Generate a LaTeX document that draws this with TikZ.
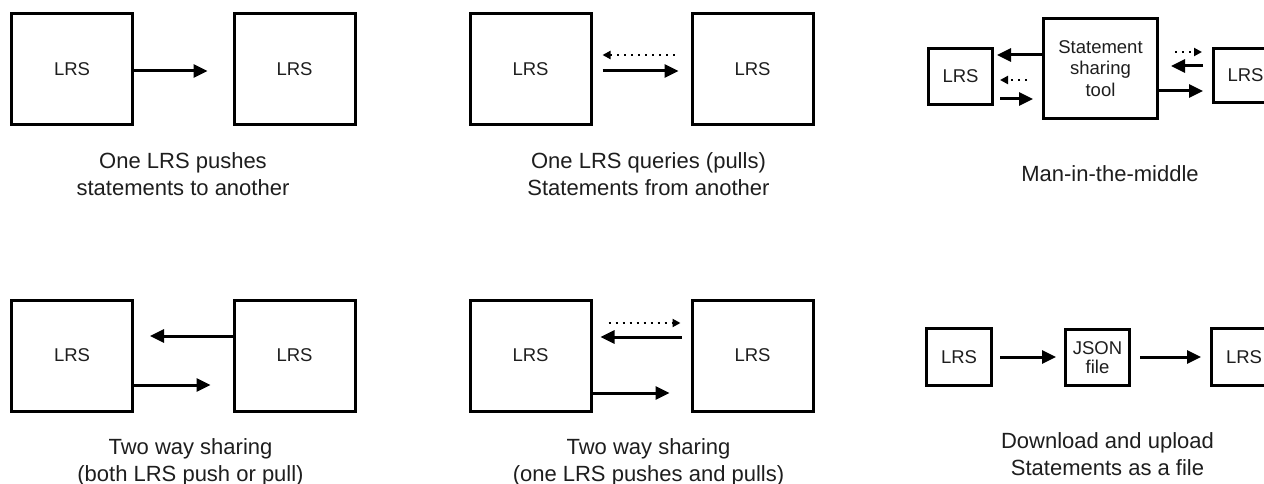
\documentclass[tikz,border=0pt]{standalone}
\usepackage{fontspec}
\setmainfont{Liberation Sans}
\usetikzlibrary{arrows.meta}
\definecolor{txt}{HTML}{1E1E1E}
\begin{document}
\begin{tikzpicture}[x=1pt,y=-1pt,
  box/.style={draw=black, line width=3pt, inner sep=0pt, align=center, text=txt,
    font=\fontsize{18.5}{21.5}\selectfont},
  bigbox/.style={box, minimum width=121pt, minimum height=111pt},
  smallbox/.style={box, minimum width=64pt, minimum height=56pt},
  captxt/.style={font=\fontsize{22}{27}\selectfont, align=center, anchor=base, inner sep=0pt, text=txt},
  arr/.style={line width=3pt, -{Triangle[length=14pt,width=13pt]}},
  darr/.style={line width=2pt, dash pattern=on 2pt off 5pt, -{Triangle[length=8pt,width=8pt]}}
]
\useasboundingbox[fill=white] (0,0) rectangle (1264,484);
\begin{scope}
\clip (0,0) rectangle (1264,484);
% Panel 1
\node[bigbox] (A1) at (72,69) {LRS};
\node[bigbox] (B1) at (294.5,69) {LRS};
\draw[arr, shorten >=25pt] (A1.east |- 0,71) -- (B1.west |- 0,71);
\node[captxt] (c1) at (183,195) {One LRS pushes\\statements to another};
% Panel 2
\node[bigbox] (A2) at (530.5,69) {LRS};
\node[bigbox] (B2) at (752.5,69) {LRS};
\draw[darr, shorten <=16pt, shorten >=10pt] (B2.west |- 0,55) -- (A2.east |- 0,55);
\draw[arr, shorten <=10pt, shorten >=12pt] (A2.east |- 0,71) -- (B2.west |- 0,71);
\node[captxt] (c2) at (648.5,195) {One LRS queries (pulls)\\Statements from another};
% Panel 3
\node[smallbox] (L3) at (960.5,76.5) {LRS};
\node[box, minimum width=114pt, minimum height=100pt] (M3) at (1100.5,68.5) {Statement\\sharing\\tool};
\node[smallbox, minimum height=54pt] (R3) at (1245.5,75.5) {LRS};
\draw[arr, shorten >=3pt] (M3.west |- 0,55) -- (L3.east |- 0,55);
\draw[darr, shorten <=15pt, shorten >=6pt] (M3.west |- 0,80) -- (L3.east |- 0,80);
\draw[arr, shorten <=6pt, shorten >=9pt] (L3.east |- 0,99) -- (M3.west |- 0,99);
\draw[darr, shorten <=16pt, shorten >=10pt] (M3.east |- 0,52) -- (R3.west |- 0,52);
\draw[arr, shorten <=9pt, shorten >=12pt] (R3.west |- 0,66) -- (M3.east |- 0,66);
\draw[arr, shorten >=9pt] (M3.east |- 0,91) -- (R3.west |- 0,91);
\node[captxt] (c3) at (1110,182) {Man-in-the-middle};
% Panel 4
\node[bigbox] (A4) at (72,355.5) {LRS};
\node[bigbox] (B4) at (294.5,355.5) {LRS};
\draw[arr, shorten >=16pt] (B4.west |- 0,336) -- (A4.east |- 0,336);
\draw[arr, shorten >=22pt] (A4.east |- 0,385) -- (B4.west |- 0,385);
\node[captxt] (c4) at (190.5,481) {Two way sharing\\(both LRS push or pull)};
% Panel 5
\node[bigbox] (A5) at (530.5,355.5) {LRS};
\node[bigbox] (B5) at (752.5,355.5) {LRS};
\draw[darr, shorten <=16pt, shorten >=10pt] (A5.east |- 0,323) -- (B5.west |- 0,323);
\draw[arr, shorten <=9pt, shorten >=8pt] (B5.west |- 0,337) -- (A5.east |- 0,337);
\draw[arr, shorten >=21pt] (A5.east |- 0,393) -- (B5.west |- 0,393);
\node[captxt] (c5) at (648.5,481) {Two way sharing\\(one LRS pushes and pulls)};
% Panel 6
\node[smallbox, minimum width=65pt, minimum height=57pt] (L6) at (959,357) {LRS};
\node[smallbox] (J6) at (1097.5,357.5) {JSON\\[-2pt]file};
\node[smallbox, minimum width=65pt, minimum height=57pt] (R6) at (1244,357) {LRS};
\draw[arr, shorten <=7pt, shorten >=8pt] (L6.east |- 0,357) -- (J6.west |- 0,357);
\draw[arr, shorten <=9pt, shorten >=9pt] (J6.east |- 0,357) -- (R6.west |- 0,357);
\node[captxt] (c6) at (1107.5,475) {Download and upload\\Statements as a file};
\end{scope}
\end{tikzpicture}
\end{document}
